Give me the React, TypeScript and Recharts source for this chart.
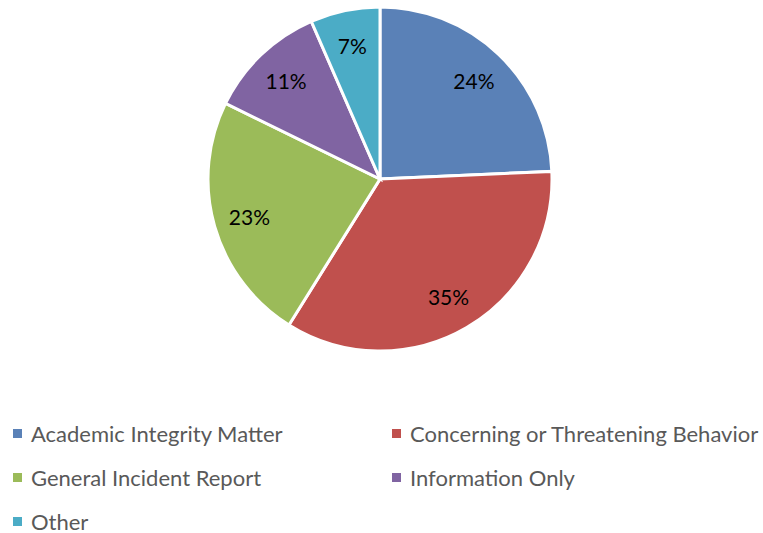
import React from "react";
import { PieChart, Pie, Cell, Legend } from "recharts";

const categories = [
  "Academic Integrity Matter",
  "Concerning or Threatening Behavior",
  "General Incident Report",
  "Information Only",
  "Other",
];
const values = [26, 37, 25, 12, 7];
const colors = ["#5A81B7", "#C0504D", "#9BBB59", "#8064A2", "#4BACC6"];

const data = categories.map((name, i) => ({ name, value: values[i] }));

const RAD = Math.PI / 180;
const FONT = "Lato, 'Open Sans', sans-serif";

const renderLabel = (props: any) => {
  const { cx, cy, midAngle, outerRadius, percent } = props;
  const r = outerRadius * 0.79;
  const x = cx + r * Math.cos(-midAngle * RAD);
  const y = cy + r * Math.sin(-midAngle * RAD);
  return (
    <text
      x={x}
      y={y}
      fill="#000"
      textAnchor="middle"
      dominantBaseline="central"
      fontSize={21}
      fontFamily={FONT}
    >
      {`${Math.round(percent * 100)}%`}
    </text>
  );
};

const LegendContent = () => (
  <div
    style={{
      display: "grid",
      gridTemplateColumns: "379px 380px",
      rowGap: 0,
      fontFamily: FONT,
      fontSize: 22,
      color: "#595959",
    }}
  >
    {data.map((d, i) => (
      <div
        key={d.name}
        style={{ display: "flex", alignItems: "center", height: 44, paddingLeft: 13 }}
      >
        <span
          style={{
            display: "inline-block",
            width: 9,
            height: 9,
            background: colors[i],
            marginRight: 9,
          }}
        />
        <span>{d.name}</span>
      </div>
    ))}
  </div>
);

export default function App() {
  return (
    <div style={{ position: "absolute", left: 0, top: 0, width: 763, height: 533, background: "#fff" }}>
      <PieChart width={763} height={533} margin={{ top: 0, right: 0, bottom: 0, left: 0 }}>
        <Pie
          data={data}
          dataKey="value"
          nameKey="name"
          cx={380}
          cy={179}
          outerRadius={172}
          startAngle={90}
          endAngle={-270}
          stroke="#fff"
          strokeWidth={3}
          label={renderLabel}
          labelLine={false}
          isAnimationActive={false}
        >
          {data.map((d, i) => (
            <Cell key={d.name} fill={colors[i]} />
          ))}
        </Pie>
        <Legend
          content={<LegendContent />}
          wrapperStyle={{ position: "absolute", left: 0, top: 411, width: 763 }}
        />
      </PieChart>
    </div>
  );
}
